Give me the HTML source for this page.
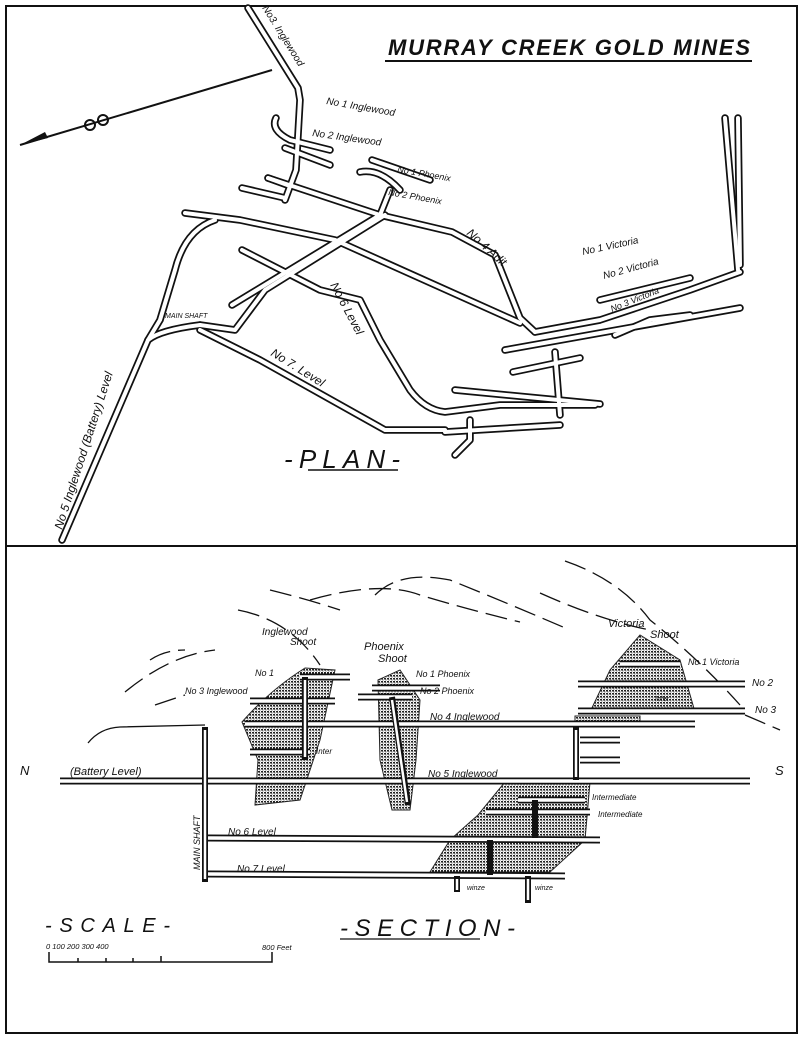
<!DOCTYPE html>
<html><head><meta charset="utf-8"><style>
html,body{margin:0;padding:0;background:#fff;}
svg{display:block}
text{font-family:"Liberation Sans",sans-serif;font-style:italic;fill:#111;}
</style></head><body>
<svg width="805" height="1043" viewBox="0 0 805 1043" xmlns="http://www.w3.org/2000/svg">
<defs>
<pattern id="dots" width="3" height="3" patternUnits="userSpaceOnUse">
<rect width="3" height="3" fill="#fff"/><rect x="0" y="0" width="2" height="1.5" fill="#222"/><rect x="1.5" y="1.5" width="1" height="1" fill="#444"/>
</pattern>
<g id="tun" fill="none" stroke-linejoin="round" stroke-linecap="round">
<path d="M248,8 L298,88 L300,100 L296,170 L285,200"/>
<path d="M276,118 Q270,130 290,140 L330,150"/>
<path d="M285,148 L330,165"/>
<path d="M268,178 L290,186"/>
<path d="M242,188 L285,198"/>
<path d="M268,178 L380,215 L452,232 L495,255 L520,318 L535,332"/>
<path d="M185,213 L240,220 L335,240 L520,323"/>
<path d="M215,220 Q185,230 175,270 L160,320 L148,340"/>
<path d="M62,540 L148,340 Q160,330 200,325"/>
<path d="M200,325 L235,330 L265,290 L385,215"/>
<path d="M232,305 L380,215"/>
<path d="M242,250 L320,290 L360,300 L380,340 L410,390 Q425,410 445,412 L500,405 L595,405"/>
<path d="M200,330 L260,360 L385,430 L445,430"/>
<path d="M505,350 L740,308"/>
<path d="M535,332 L600,320 L690,290 L740,272"/>
<path d="M513,372 L580,358"/>
<path d="M455,390 L600,404"/>
<path d="M445,432 L560,425"/>
<path d="M725,118 L738,270"/>
<path d="M738,118 L740,265"/>
<path d="M600,300 L690,278"/>
<path d="M615,335 L650,320 L690,315"/>
<path d="M372,160 L430,180"/>
<path d="M360,172 Q380,168 400,190"/>
<path d="M380,215 L390,190"/>
<path d="M555,352 L560,415"/>
<path d="M470,420 L470,440 L455,455"/>
</g>
<g id="sec" fill="none" stroke-linecap="butt">
<path d="M60,781 L750,781"/>
<path d="M245,724 L695,724"/>
<path d="M208,838 L600,840"/>
<path d="M208,874 L565,876"/>
<path d="M300,677 L350,677"/>
<path d="M250,701 L335,701"/>
<path d="M250,752 L310,752"/>
<path d="M372,688 L440,688"/>
<path d="M358,697 L412,697"/>
<path d="M620,664 L680,664"/>
<path d="M578,684 L745,684"/>
<path d="M578,711 L745,711"/>
<path d="M518,800 L585,800"/>
<path d="M486,812 L590,812"/>
<path d="M580,740 L620,740"/>
<path d="M580,760 L620,760"/>
</g>
</defs>
<rect x="6" y="6" width="791" height="1027" fill="none" stroke="#111" stroke-width="2"/>
<line x1="6" y1="546" x2="797" y2="546" stroke="#111" stroke-width="2"/>

<use href="#tun" stroke="#111" stroke-width="7.5"/>
<use href="#tun" stroke="#fff" stroke-width="4"/>
<line x1="20" y1="145" x2="272" y2="70" stroke="#111" stroke-width="2"/>
<path d="M20,145 L45,132 L48,138 Z" fill="#111"/>
<circle cx="90" cy="125" r="5" fill="none" stroke="#111" stroke-width="2"/>
<circle cx="103" cy="120" r="5" fill="none" stroke="#111" stroke-width="2"/>
<text x="388" y="55" font-size="22" font-weight="bold" textLength="362">MURRAY CREEK GOLD MINES</text>
<line x1="385" y1="61" x2="752" y2="61" stroke="#111" stroke-width="2"/>
<text x="0" y="0" font-size="10" transform="translate(262,8) rotate(58)">No3. Inglewood</text>
<text x="326" y="104" font-size="10" transform="rotate(10 326 104)">No 1 Inglewood</text>
<text x="312" y="136" font-size="10" transform="rotate(8 312 136)">No 2 Inglewood</text>
<text x="397" y="172" font-size="9" transform="rotate(10 397 172)">No 1 Phoenix</text>
<text x="388" y="195" font-size="9" transform="rotate(10 388 195)">No 2 Phoenix</text>
<text x="0" y="0" font-size="12" transform="translate(466,234) rotate(42)">No 4  Adit</text>
<text x="583" y="255" font-size="10" transform="rotate(-12 583 255)">No 1 Victoria</text>
<text x="604" y="279" font-size="10" transform="rotate(-15 604 279)">No 2 Victoria</text>
<text x="612" y="312" font-size="9" transform="rotate(-22 612 312)">No 3 Victoria</text>
<text x="165" y="318" font-size="7">MAIN SHAFT</text>
<text x="0" y="0" font-size="12" transform="translate(330,285) rotate(62)">No  6   Level</text>
<text x="0" y="0" font-size="12" transform="translate(270,355) rotate(32)">No 7. Level</text>
<text x="0" y="0" font-size="12" transform="translate(62,530) rotate(-72)">No 5 Inglewood (Battery) Level</text>
<text x="284" y="468" font-size="26" textLength="116">-PLAN-</text>
<line x1="308" y1="470" x2="398" y2="470" stroke="#111" stroke-width="1.5"/>

<g fill="none" stroke="#111" stroke-width="1.3" stroke-dasharray="22 8">
<path d="M125,692 Q170,655 215,650"/>
<path d="M150,660 Q165,650 185,650"/>
<path d="M238,610 Q290,620 320,665"/>
<path d="M270,590 Q310,600 340,610"/>
<path d="M310,600 Q380,580 420,595 Q470,610 520,622"/>
<path d="M375,595 Q400,570 450,580 Q500,600 570,630"/>
<path d="M565,561 Q620,580 650,620 Q700,660 740,705"/>
<path d="M540,593 Q600,620 650,630"/>
<path d="M155,705 Q170,700 185,695"/>
<path d="M745,715 L780,730"/>
</g>
<path d="M88,743 Q100,728 120,727 L205,725" fill="none" stroke="#111" stroke-width="1.3"/>
<g fill="url(#dots)" stroke="#222" stroke-width="1">
<path d="M242,722 Q270,690 305,668 L335,670 L320,740 L300,800 L255,805 L258,760 Z"/>
<path d="M378,680 L400,670 L420,700 L416,760 L410,810 L392,810 L380,760 Z"/>
<path d="M590,712 L610,670 L640,635 L680,660 L695,712 Z"/>
<path d="M575,716 L640,716 L640,724 L575,724 Z"/>
<path d="M430,872 L450,840 L478,815 L505,782 L590,782 L585,840 L550,872 Z"/>
</g>
<use href="#sec" stroke="#111" stroke-width="7"/>
<use href="#sec" stroke="#fff" stroke-width="3.5"/>
<g stroke="#111" stroke-width="6" fill="none"><path d="M205,727 L205,882"/><path d="M305,677 L305,760"/><path d="M392,697 L408,805"/><path d="M576,727 L576,780"/><path d="M457,876 L457,892"/><path d="M528,876 L528,903"/><path d="M490,840 L490,875"/><path d="M535,800 L535,838"/></g>
<g stroke="#fff" stroke-width="2.5" fill="none"><path d="M205,730 L205,879"/><path d="M305,680 L305,757"/><path d="M392,700 L407,802"/><path d="M576,730 L576,777"/><path d="M457,879 L457,890"/><path d="M528,879 L528,900"/></g>
<text x="262" y="635" font-size="10">Inglewood</text>
<text x="290" y="645" font-size="10">Shoot</text>
<text x="364" y="650" font-size="11">Phoenix</text>
<text x="378" y="662" font-size="11">Shoot</text>
<text x="608" y="627" font-size="11">Victoria</text>
<text x="650" y="638" font-size="11">Shoot</text>
<text x="255" y="676" font-size="9">No 1</text>
<text x="185" y="694" font-size="9">No 3 Inglewood</text>
<text x="416" y="677" font-size="9">No 1 Phoenix</text>
<text x="420" y="694" font-size="9">No 2 Phoenix</text>
<text x="430" y="720" font-size="10">No 4 Inglewood</text>
<text x="316" y="754" font-size="8">Inter</text>
<text x="688" y="665" font-size="9">No 1 Victoria</text>
<text x="752" y="686" font-size="10">No 2</text>
<text x="755" y="713" font-size="10">No 3</text>
<text x="655" y="701" font-size="7">Inter</text>
<text x="20" y="775" font-size="13">N</text>
<text x="775" y="775" font-size="13">S</text>
<text x="70" y="775" font-size="11">(Battery Level)</text>
<text x="428" y="777" font-size="10">No 5 Inglewood</text>
<text x="592" y="800" font-size="8">Intermediate</text>
<text x="598" y="817" font-size="8">Intermediate</text>
<text x="228" y="835" font-size="10">No  6   Level</text>
<text x="237" y="872" font-size="10">No  7  Level</text>
<text x="0" y="0" font-size="9" transform="translate(200,870) rotate(-90)">MAIN SHAFT</text>
<text x="467" y="890" font-size="7">winze</text>
<text x="535" y="890" font-size="7">winze</text>
<text x="45" y="932" font-size="20" textLength="125">-SCALE-</text>
<text x="340" y="936" font-size="24" textLength="175">-SECTION-</text>
<line x1="340" y1="939" x2="480" y2="939" stroke="#111" stroke-width="1.3"/>
<text x="46" y="949" font-size="7.5">0   100 200 300 400</text>
<text x="262" y="950" font-size="7.5">800 Feet</text>
<path d="M49,952 L49,962 L272,962 L272,952 M78,962 L78,958 M106,962 L106,958 M133,962 L133,958 M161,962 L161,956" fill="none" stroke="#111" stroke-width="1.5"/>
</svg>
</body></html>
